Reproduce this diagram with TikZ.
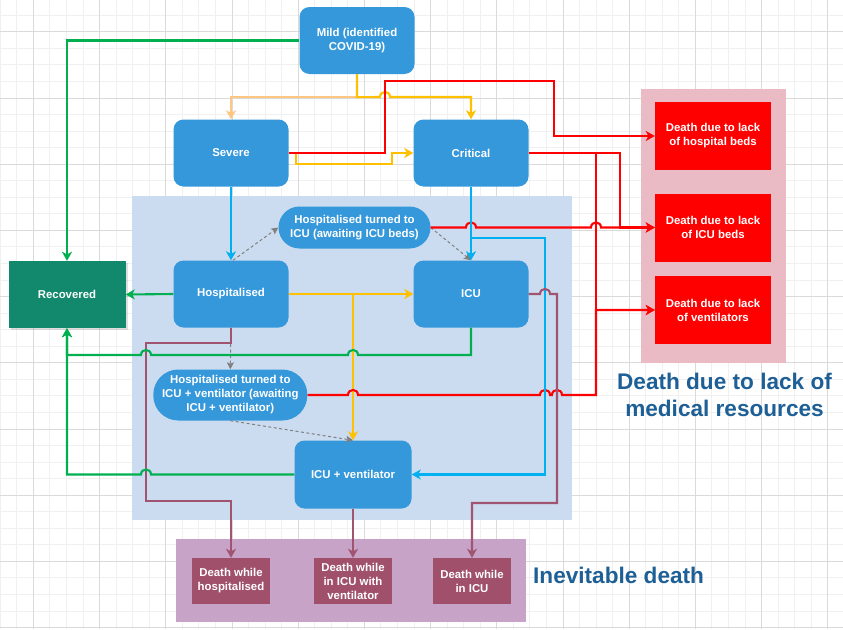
\documentclass[tikz,border=0pt]{standalone}
\usepackage{fontspec}
\setmainfont{Liberation Sans}
\usetikzlibrary{arrows.meta,shadows,calc}
\definecolor{nodeblue}{RGB}{53,152,219}
\definecolor{recgreen}{RGB}{18,136,108}
\definecolor{regblue}{RGB}{204,220,240}
\definecolor{regpink}{RGB}{234,186,197}
\definecolor{regpurple}{RGB}{200,163,200}
\definecolor{deathred}{RGB}{255,0,0}
\definecolor{deathpur}{RGB}{160,80,106}
\definecolor{egreen}{RGB}{0,176,80}
\definecolor{eyellow}{RGB}{255,192,0}
\definecolor{epale}{RGB}{255,198,130}
\definecolor{ered}{RGB}{255,0,0}
\definecolor{ecyan}{RGB}{0,176,240}
\definecolor{epurple}{RGB}{160,84,112}
\definecolor{labelblue}{RGB}{30,96,150}
\definecolor{gridminor}{RGB}{240,240,240}
\definecolor{gridmajor}{RGB}{218,218,218}
\newcommand\nodefont{\bfseries\fontsize{11.4}{14}\selectfont}
\newcommand\hopR[2]{-- ({#1-5},{#2}) .. controls ({#1-5},{#2-6.7}) and ({#1+5},{#2-6.7}) .. ({#1+5},{#2})}
\newcommand\hopL[2]{-- ({#1+5},{#2}) .. controls ({#1+5},{#2-6.7}) and ({#1-5},{#2-6.7}) .. ({#1-5},{#2})}
\begin{document}
\begin{tikzpicture}[x=1pt,y=-1pt,
  box/.style={fill=nodeblue, rounded corners=10pt, minimum width=115pt, minimum height=67pt, text=white, font=\nodefont, align=center, inner sep=0pt},
  pill/.style={fill=nodeblue, text=white, font=\nodefont, align=center, inner sep=0pt},
  redbox/.style={fill=deathred, minimum width=116pt, minimum height=68pt, text=white, font=\nodefont, align=center, inner sep=0pt},
  purbox/.style={fill=deathpur, minimum width=78pt, minimum height=46pt, text=white, font=\nodefont, align=center, inner sep=0pt},
  region/.style={inner sep=0pt},
  conn/.style={line width=2.1pt},
  arr/.style={-{Stealth[length=9pt,width=10pt,inset=2.5pt]}},
  gdash/.style={draw={rgb,255:red,128;green,128;blue,128}, line width=1pt, dash pattern=on 3pt off 2.5pt, -{Stealth[length=7pt,width=7pt,inset=1.5pt]}},
  biglabel/.style={text=labelblue, font=\bfseries\fontsize{22.6}{27.4}\selectfont, align=center, inner sep=0pt}
]
\useasboundingbox (0,0) rectangle (843,629);
\fill[white] (0,0) rectangle (843,629);
% grid
\foreach \i in {0,...,51} {\draw[gridminor, line width=0.8pt] ({0.2+16.55*\i},0) -- ({0.2+16.55*\i},629);}
\foreach \j in {0,...,38} {\draw[gridminor, line width=0.8pt] (0,{-1.4+16.55*\j}) -- (843,{-1.4+16.55*\j});}
\foreach \i in {0,...,12} {\draw[gridmajor, line width=0.8pt] ({33.3+66.2*\i},0) -- ({33.3+66.2*\i},629);}
\foreach \j in {0,...,9} {\draw[gridmajor, line width=0.8pt] (0,{31.7+66.2*\j}) -- (843,{31.7+66.2*\j});}

% regions
\node[region, fill=regblue, minimum width=440pt, minimum height=324pt] (bluereg) at (352,358) {};
\node[region, fill=regpink, minimum width=145pt, minimum height=274pt] (pinkreg) at (713.5,226) {};
\node[region, fill=regpurple, minimum width=350pt, minimum height=83pt] (purreg) at (351,580.5) {};

% nodes
\node[box] (Mild) at (357,40.5) {Mild (identified\\COVID-19)};
\node[box] (Severe) at (231,153) {Severe};
\node[box] (Critical) at (471,153) {Critical};
\node[box] (Hosp) at (231,294) {Hospitalised};
\node[box] (ICU) at (471,294) {ICU};
\node[fill=recgreen, minimum width=117pt, minimum height=67pt, text=white, font=\nodefont, inner sep=0pt,
      drop shadow={shadow xshift=2pt, shadow yshift=-2pt, opacity=0.25}] (Rec) at (67,294.5) {Recovered};
\node[pill, rounded corners=21pt, minimum width=152pt, minimum height=42pt] (HTICU) at (354.5,227.5) {Hospitalised turned to\\ICU (awaiting ICU beds)};
\node[pill, rounded corners=25pt, minimum width=154pt, minimum height=51pt] (HTICUV) at (230.3,395) {Hospitalised turned to\\ICU + ventilator (awaiting\\ICU + ventilator)};
\node[box, minimum width=117pt, minimum height=68pt] (ICUV) at (353,474.5) {ICU + ventilator};
\node[redbox] (HB) at (713,136) {Death due to lack\\of hospital beds};
\node[redbox] (IB) at (713,227.5) {Death due to lack\\of ICU beds};
\node[redbox] (VB) at (713,310) {Death due to lack\\of ventilators};
\node[purbox] (D1) at (231,581) {Death while\\hospitalised};
\node[purbox] (D2) at (353,581) {Death while\\in ICU with\\ventilator};
\node[purbox] (D3) at (472,581) {Death while\\in ICU};

\node[biglabel] (lblres) at (724.5,395) {Death due to lack of\\medical resources};
\node[biglabel, anchor=base west] (lblinev) at (533,583.3) {Inevitable death};

% gray dashed connectors
\draw[gdash] ($(Hosp.north)+(2,0)$) -- (HTICU.west);
\draw[gdash] (HTICU.east) -- (ICU.north);
\draw[gdash] (Hosp.south) -- (HTICUV.north);
\draw[gdash] (HTICUV.south) -- (ICUV.north);

% pale orange / yellow
\draw[conn, epale, arr] (Mild.south) -- ++(0,23) -| (Severe.north);
\draw[conn, eyellow, arr] (Mild.south) -- ++(0,23) \hopR{385}{97} -| (Critical.north);
\draw[conn, eyellow, arr] (Severe.east) -- (296,153) -- (296,164) -- (392,164) -- (392,153) -- (Critical.west);
\draw[conn, eyellow, arr] (Hosp.east) -- (ICU.west);
\draw[conn, eyellow, arr] (Hosp.east) -- (353,294) -- (ICUV.north);

% red
\draw[conn, ered, arr] (Severe.east) -- (385,153) -- (385,81) -- (554,81) |- (HB.west);
\draw[conn, ered, arr] (Critical.east) -- (620,153) |- (IB.west);
\draw[conn, ered, arr] (Critical.east) -- (596,153) |- (VB.west);
\draw[conn, ered, arr] (HTICU.east) \hopR{471}{227.5} \hopR{596}{227.5} -- (IB.west);
\draw[conn, ered, arr] (HTICUV.east) \hopR{353}{395} \hopR{545}{395} \hopR{557}{395} -- (596,395) |- (VB.west);

% cyan
\draw[conn, ecyan, arr] (Severe.south) -- (Hosp.north);
\draw[conn, ecyan, arr] (Critical.south) -- (ICU.north);
\draw[conn, ecyan, arr] (Critical.south) -- (471,238) -- (545,238) |- (ICUV.east);

% purple
\draw[conn, epurple, arr] (ICU.east) \hopR{545}{294} -- (557,294) -- (557,503) -| (D3.north);
\draw[conn, epurple, arr] (Hosp.south) -- (231,343) -- (146,343) -- (146,501) -| (D1.north);
\draw[conn, epurple, arr] (ICUV.south) -- (D2.north);

% green
\draw[conn, egreen, arr] (Mild.west) -| (Rec.north);
\draw[conn, egreen, arr] (Hosp.west) -- (Rec.east);
\draw[conn, egreen, arr] (ICU.south) -- (471,355) \hopL{353}{355} \hopL{146}{355} -| (Rec.south);
\draw[conn, egreen, arr] (ICUV.west) \hopL{146}{474.5} -- (67,474.5) -- (Rec.south);
\end{tikzpicture}
\end{document}
